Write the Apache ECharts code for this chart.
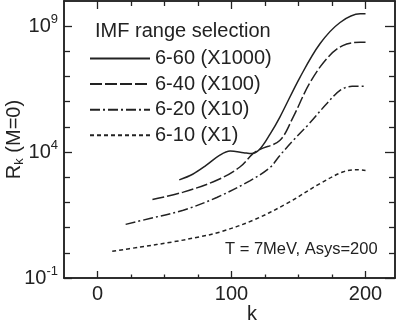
<!DOCTYPE html>
<html>
<head>
<meta charset="utf-8">
<script src="https://cdn.jsdelivr.net/npm/echarts@6/dist/echarts.min.js"></script>
<style>
  html, body { margin: 0; padding: 0; background: #fff; }
  #chart { width: 400px; height: 328px; }
</style>
</head>
<body>
<div id="chart"></div>
<script>
// k values and R_k values
var kSolid = [61, 71, 81, 91, 99, 109, 115, 121, 129, 136, 151, 166, 181, 196, 200];
var rSolid = [790, 1320, 2950, 7400, 11000, 9500, 8700, 12900, 54000, 240000, 9.1e6, 2.0e8, 1.4e9, 3.1e9, 3.1e9];

var kDash = [41, 64, 89, 106, 116, 121, 136, 146, 158, 171, 183, 196, 200];
var rDash = [132, 257, 760, 2500, 8700, 12600, 29000, 245000, 5.1e6, 5.1e7, 1.7e8, 2.3e8, 2.3e8];

var kDashDot = [21, 39, 64, 89, 114, 129, 135, 146, 158, 171, 181, 190, 200];
var rDashDot = [13.5, 23, 49, 158, 740, 2500, 6300, 28800, 135000, 830000, 2.8e6, 4.1e6, 4.1e6];

var kShort = [11, 32, 56, 76, 91, 116, 141, 166, 183, 193, 200];
var rShort = [1.15, 1.7, 2.7, 4.3, 6.6, 19.5, 89, 560, 1620, 2000, 1860];

var seriesNames = ['6-60 (X1000)', '6-40 (X100)', '6-20 (X10)', '6-10 (X1)'];

var xMajor = [0, 100, 200];
var xMinor = [25, 50, 75, 125, 150, 175];
var yMajor = [0.1, 1e4, 1e9];
var yMinor = [1, 10, 100, 1000, 1e5, 1e6, 1e7, 1e8];

var FONT = 'Liberation Sans, Arial, Helvetica, sans-serif';
var INK = '#222';

function zip(ks, rs) {
  return ks.map(function (k, i) { return [k, rs[i]]; });
}

var chart = echarts.init(document.getElementById('chart'));

// same rectangle for every grid, one grid per (x side, y side, tick set)
function gridBox() {
  return { left: 64, top: 1, width: 331, height: 277, containLabel: false, outerBoundsMode: 'none' };
}

function xAx(g, pos, ticks, len, labels) {
  return {
    type: 'value', gridIndex: g, position: pos, min: -25, max: 222,
    axisLine: { show: true, onZero: false, lineStyle: { color: INK, width: 1.5 } },
    axisTick: { show: true, inside: true, length: len, customValues: ticks, lineStyle: { color: INK, width: 1.3 } },
    axisLabel: labels ? {
      show: true, customValues: xMajor, margin: 6,
      color: INK, fontSize: 20, fontFamily: FONT
    } : { show: false },
    splitLine: { show: false }
  };
}

function yAx(g, pos, ticks, len, labels) {
  return {
    type: 'log', logBase: 10, gridIndex: g, position: pos, min: 0.1, max: 1e10,
    axisLine: { show: true, onZero: false, lineStyle: { color: INK, width: 1.5 } },
    axisTick: { show: true, inside: true, length: len, customValues: ticks, lineStyle: { color: INK, width: 1.3 } },
    axisLabel: labels ? {
      show: true, customValues: yMajor, margin: 6,
      formatter: function (v) {
        var e = Math.round(Math.log10(v));
        return '{b|10}{s|' + e + '}';
      },
      rich: {
        b: { fontSize: 20, lineHeight: 26, color: INK, fontFamily: FONT },
        s: { fontSize: 13, lineHeight: 14, verticalAlign: 'top', color: INK, fontFamily: FONT }
      }
    } : { show: false },
    splitLine: { show: false }
  };
}

var bottomAxis = xAx(0, 'bottom', xMajor, 7, true);
bottomAxis.name = 'k';
bottomAxis.nameLocation = 'middle';
bottomAxis.nameGap = 26;
bottomAxis.nameMoveOverlap = false;
bottomAxis.nameTextStyle = { color: INK, fontSize: 20, fontFamily: FONT, padding: [0, 0, 0, 45] };

var leftAxis = yAx(0, 'left', yMajor, 8, true);
leftAxis.name = '{r|R}{k|k}{r| (M=0)}';
leftAxis.nameLocation = 'middle';
leftAxis.nameGap = 38;
leftAxis.nameMoveOverlap = false;
leftAxis.nameTextStyle = {
  rich: {
    r: { fontSize: 20, lineHeight: 24, color: INK, fontFamily: FONT },
    k: { fontSize: 13, lineHeight: 14, verticalAlign: 'bottom', color: INK, fontFamily: FONT }
  }
};

function line(name, data, dash) {
  return {
    name: name, type: 'line', xAxisIndex: 0, yAxisIndex: 0,
    data: data, smooth: 0.35, symbol: 'none', showSymbol: false,
    lineStyle: { color: INK, width: 1.5, type: dash },
    itemStyle: { color: INK }
  };
}

chart.setOption({
  animation: false,
  backgroundColor: '#fff',
  grid: [gridBox(), gridBox(), gridBox(), gridBox()],
  xAxis: [
    bottomAxis,
    xAx(1, 'bottom', xMinor, 3.5, false),
    xAx(2, 'top', xMajor, 8, false),
    xAx(3, 'top', xMinor, 5, false)
  ],
  yAxis: [
    leftAxis,
    yAx(1, 'left', yMinor, 6, false),
    yAx(2, 'right', yMajor, 10, false),
    yAx(3, 'right', yMinor, 6, false)
  ],
  legend: {
    orient: 'vertical', left: 84, top: 43.5, padding: 5,
    itemWidth: 60, itemHeight: 20, itemGap: 5.6,
    itemStyle: { opacity: 0 },
    textStyle: { color: INK, fontSize: 20, fontFamily: FONT, lineHeight: 20 },
    data: seriesNames
  },
  graphic: [
    { type: 'text', left: 95, top: 21, style: { text: 'IMF range selection', fill: INK, font: '20px ' + FONT } },
    { type: 'text', left: 225, top: 241, style: { text: 'T = 7MeV, Asys=200', fill: INK, font: '16.5px ' + FONT } }
  ],
  series: [
    line(seriesNames[0], zip(kSolid, rSolid), 'solid'),
    line(seriesNames[1], zip(kDash, rDash), [12, 3]),
    line(seriesNames[2], zip(kDashDot, rDashDot), [10, 3, 2, 3]),
    line(seriesNames[3], zip(kShort, rShort), [4, 3])
  ]
});
</script>
</body>
</html>
